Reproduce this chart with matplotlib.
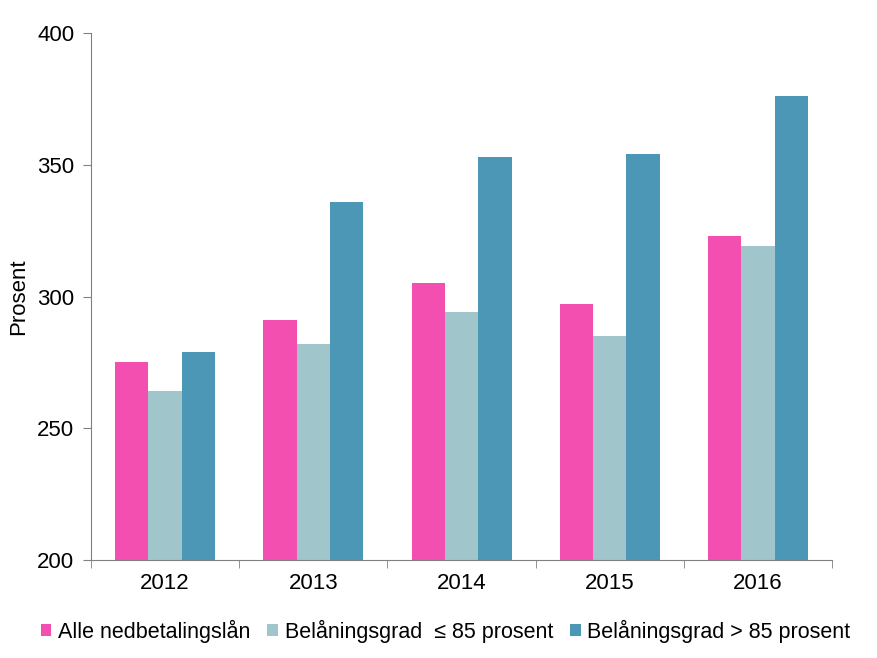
import matplotlib
matplotlib.use("Agg")
import matplotlib.pyplot as plt
import numpy as np

plt.rcParams['font.family'] = ['Liberation Sans', 'DejaVu Sans']

years = ["2012", "2013", "2014", "2015", "2016"]
series_names = ["Alle nedbetalingslån", "Belåningsgrad  ≤ 85 prosent", "Belåningsgrad > 85 prosent"]
alle = [275, 291, 305, 297, 323]
under85 = [264, 282, 294, 285, 319]
over85 = [279, 336, 353, 354, 376]
colors = ["#F24FB0", "#A0C6CC", "#4C97B5"]

fig = plt.figure(figsize=(8.77, 6.58), dpi=100)
ax = fig.add_axes([0.1038, 0.1489, 0.8449, 0.8009])

x = np.arange(len(years))
w = 0.225
for i, (vals, name, c) in enumerate(zip([alle, under85, over85], series_names, colors)):
    ax.bar(x + (i - 1) * w, vals, width=w, color=c, label=name, zorder=2)

ax.set_xlim(-0.5, len(years) - 0.5)
ax.set_ylim(200, 400)
ax.set_yticks([200, 250, 300, 350, 400])
ax.set_xticks(x)
ax.set_xticklabels(years)
ax.set_xticks(np.arange(len(years) + 1) - 0.5, minor=True)
ax.tick_params(axis='x', which='major', length=0, labelsize=16, pad=9)
ax.tick_params(axis='x', which='minor', length=6, color='#808080', direction='out')
ax.tick_params(axis='y', length=6, color='#808080', labelsize=16, direction='out', pad=6)
for s in ['top', 'right']:
    ax.spines[s].set_visible(False)
for s in ['left', 'bottom']:
    ax.spines[s].set_color('#808080')
ax.set_ylabel("Prosent", fontsize=16, labelpad=6)

fig.legend(loc='lower center', ncol=3, frameon=False, fontsize=15.5,
           bbox_to_anchor=(0.508, 0.0), handlelength=0.5, handleheight=0.5,
           handletextpad=0.3, columnspacing=0.8, borderaxespad=0.3)

fig.savefig("out.png", dpi=100)
